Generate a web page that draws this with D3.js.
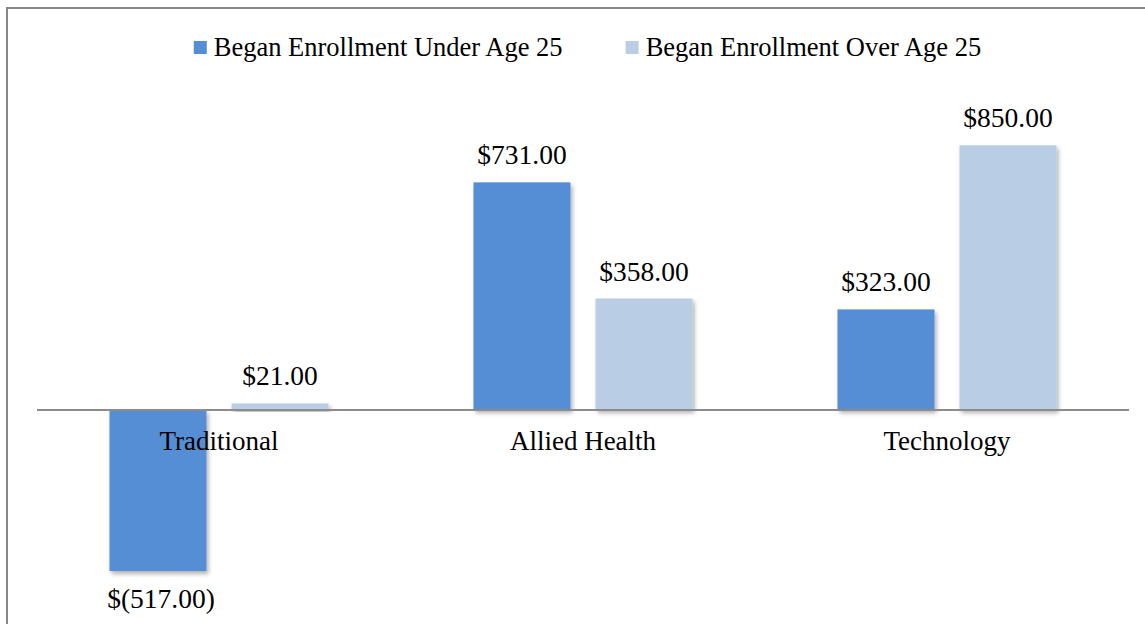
<!DOCTYPE html>
<html>
<head>
<meta charset="utf-8">
<script src="https://cdn.jsdelivr.net/npm/d3@7"></script>
<style>
  body { margin: 0; background: #fff; }
  svg text { font-family: "Liberation Serif", "Times New Roman", serif; fill: #000; }
</style>
</head>
<body>
<div id="chart_div"></div>
<script>
// chart data
var categories = ['Traditional', 'Allied Health', 'Technology'];
var series = ['Began Enrollment Under Age 25', 'Began Enrollment Over Age 25'];
var under25 = [-517, 731, 323];
var over25 = [21, 358, 850];
var colors = ['#558ed5', '#b9cde5'];

function chart() {
    var width = 1145;
    var height = 624;
    var plot = { left: 37, right: 1129, zero: 410 };

    var rows = categories.map(function(c, i) {
        return { cat: c, values: [under25[i], over25[i]] };
    });

    var svg = d3.select('#chart_div')
        .append('svg')
        .attr('width', width)
        .attr('height', height);

    var defs = svg.append('defs');
    defs.append('filter')
        .attr('id', 'shadow')
        .attr('x', '-20%').attr('y', '-20%')
        .attr('width', '150%').attr('height', '150%')
        .append('feDropShadow')
        .attr('dx', 2).attr('dy', 3)
        .attr('stdDeviation', 2)
        .attr('flood-color', '#000')
        .attr('flood-opacity', 0.3);

    // outer frame, runs off the right and bottom edge
    svg.append('rect')
        .attr('x', 7).attr('y', 8)
        .attr('width', width + 20).attr('height', height + 20)
        .attr('fill', 'none')
        .attr('stroke', '#878787')
        .attr('stroke-width', 2);

    var x0 = d3.scaleBand()
        .domain(categories)
        .range([plot.left, plot.right]);

    var x1 = d3.scaleBand()
        .domain(d3.range(series.length))
        .range([0, x0.bandwidth()])
        .paddingInner(0.205)
        .paddingOuter(0.594);

    // 517 units -> 161 px
    var y = d3.scaleLinear()
        .domain([-517, 850])
        .range([plot.zero + 161, plot.zero - 264.7]);

    var fmt = d3.format(',.2f');
    function money(v) {
        return v < 0 ? '$(' + fmt(-v) + ')' : '$' + fmt(v);
    }

    var groups = svg.selectAll('g.cat')
        .data(rows)
        .enter()
        .append('g')
        .attr('class', 'cat')
        .attr('transform', function(d) { return 'translate(' + x0(d.cat) + ',0)'; });

    groups.selectAll('rect')
        .data(function(d) { return d.values.map(function(v, i) { return { v: v, i: i }; }); })
        .enter()
        .append('rect')
        .attr('x', function(d) { return x1(d.i); })
        .attr('y', function(d) { return Math.min(y(d.v), y(0)); })
        .attr('width', x1.bandwidth())
        .attr('height', function(d) { return Math.abs(y(d.v) - y(0)); })
        .attr('fill', function(d) { return colors[d.i]; })
        .attr('filter', 'url(#shadow)');

    // zero line
    svg.append('line')
        .attr('x1', plot.left).attr('x2', plot.right)
        .attr('y1', y(0)).attr('y2', y(0))
        .attr('stroke', '#8c8c8c')
        .attr('stroke-width', 2);

    // value labels
    groups.selectAll('text.val')
        .data(function(d) { return d.values.map(function(v, i) { return { v: v, i: i }; }); })
        .enter()
        .append('text')
        .attr('class', 'val')
        .attr('text-anchor', 'middle')
        .style('font-size', '27.5px')
        .attr('x', function(d) { return x1(d.i) + x1.bandwidth() / 2 + (d.v < 0 ? 3 : 0); })
        .attr('y', function(d) { return d.v < 0 ? y(d.v) + 37 : y(d.v) - 18; })
        .text(function(d) { return money(d.v); });

    // category labels
    groups.append('text')
        .attr('text-anchor', 'middle')
        .style('font-size', '27px')
        .attr('x', x0.bandwidth() / 2)
        .attr('y', y(0) + 40)
        .text(function(d) { return d.cat; });

    // legend
    var legend = svg.append('g');
    var lx = 0;
    series.forEach(function(s, i) {
        var item = legend.append('g').attr('transform', 'translate(' + lx + ',0)');
        item.append('rect')
            .attr('x', 0).attr('y', 41)
            .attr('width', 13).attr('height', 13)
            .attr('fill', colors[i]);
        var t = item.append('text')
            .attr('x', 20).attr('y', 56)
            .style('font-size', '26.5px')
            .text(s);
        lx += 20 + t.node().getComputedTextLength() + 63;
    });
    var lw = lx - 63;
    legend.attr('transform', 'translate(' + (587.5 - lw / 2) + ',0)');
}

chart();
</script>
</body>
</html>
